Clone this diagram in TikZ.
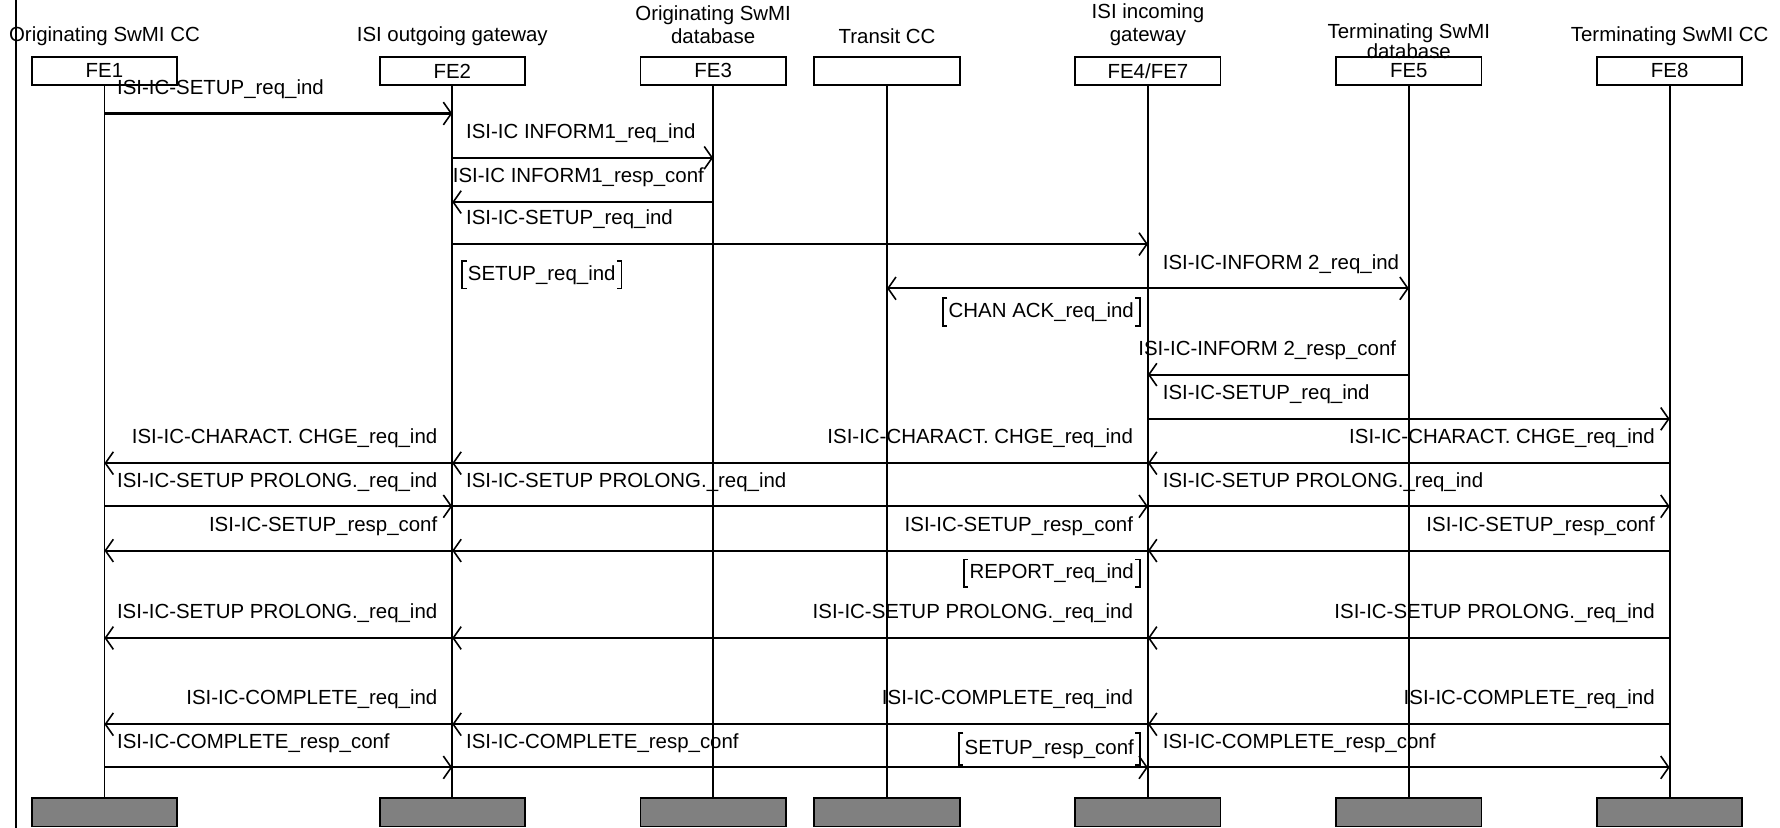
\documentclass[tikz,border=0pt]{standalone}
\usepackage{fontspec}
\setmainfont{Liberation Sans}
\usetikzlibrary{arrows.meta}
\begin{document}
\begin{tikzpicture}[x=1pt,y=-1pt,
  every node/.style={font=\fontsize{18}{20}\selectfont, inner sep=0pt},
  fe/.style={draw, line width=1.6pt, minimum width=128pt, minimum height=25pt, inner sep=0pt},
  febot/.style={fe, fill=gray},
  hdr/.style={align=center},
  life/.style={line width=1.6pt},
  barb/.tip={Straight Barb[length=7pt,width=20pt,line width=1.4pt]},
  msg/.style={line width=1.9pt, -barb},
  bmsg/.style={line width=1.9pt, barb-barb},
  lbl/.style={anchor=base west},
  lbr/.style={anchor=base east},
  brk/.style={inner xsep=5pt, minimum height=24pt},
  brkline/.style={line width=1.6pt}
]
\useasboundingbox (0,0) rectangle (1568,729);
\def\xA{92}\def\xB{398.4}\def\xC{628.2}\def\xT{781.4}\def\xD{1011.2}\def\xE{1241}\def\xF{1470.8}

% left frame line
\coordinate (ftop) at (14,0);
\coordinate (fbot) at (14,729);
\draw[line width=1.6pt] (ftop) -- (fbot);

% headers
\node[hdr] (t1) at (\xA,32) {Originating SwMI CC};
\node[hdr] (t2) at (\xB,32) {ISI outgoing gateway};
\node[hdr] (t3) at (\xC,22) {Originating SwMI\\database};
\node[hdr] (t4) at (\xT,32) {Transit CC};
\node[hdr] (t5) at (\xD,22) {ISI incoming\\gateway};
\node[hdr, font=\fontsize{18}{16.5}\selectfont] (t6) at (\xE,36) {Terminating SwMI\\database};
\node[hdr] (t7) at (\xF,32) {Terminating SwMI CC};

% entity boxes
\node[fe] (top1) at (\xA,62.5) {FE1};
\node[fe] (top2) at (\xB,62.5) {FE2};
\node[fe] (top3) at (\xC,62.5) {FE3};
\node[fe] (top4) at (\xT,62.5) {};
\node[fe] (top5) at (\xD,62.5) {FE4/FE7};
\node[fe] (top6) at (\xE,62.5) {FE5};
\node[fe] (top7) at (\xF,62.5) {FE8};

\node[febot] (bot1) at (\xA,715.5) {};
\node[febot] (bot2) at (\xB,715.5) {};
\node[febot] (bot3) at (\xC,715.5) {};
\node[febot] (bot4) at (\xT,715.5) {};
\node[febot] (bot5) at (\xD,715.5) {};
\node[febot] (bot6) at (\xE,715.5) {};
\node[febot] (bot7) at (\xF,715.5) {};

\foreach \i in {1,...,7} {\draw[life] (top\i.south) -- (bot\i.north);}

% row coordinates on the lifelines
\foreach \r/\y in {ra/100,rb/139,rc/178,rd/215,re/254,rf/330,rg/369,rh/408,ri/446,rj/485,rk/562,rl/638,rm/676} {
  \coordinate (\r1) at (\xA,\y);
  \coordinate (\r2) at (\xB,\y);
  \coordinate (\r3) at (\xC,\y);
  \coordinate (\r4) at (\xT,\y);
  \coordinate (\r5) at (\xD,\y);
  \coordinate (\r6) at (\xE,\y);
  \coordinate (\r7) at (\xF,\y);
}

% 1
\draw[msg] (ra1) -- (ra2);
\path (ra1) ++(11,-17) node[lbl] (la) {ISI-IC-SETUP\_req\_ind};
% 2
\draw[msg] (rb2) -- (rb3);
\path (rb2) ++(12,-17) node[lbl] (lb) {ISI-IC INFORM1\_req\_ind};
% 3
\draw[msg] (rc3) -- (rc2);
\path (rc3) ++(-8,-17) node[lbr] (lc) {ISI-IC INFORM1\_resp\_conf};
% 4
\draw[msg] (rd2) -- (rd5);
\path (rd2) ++(12,-17) node[lbl] (ld) {ISI-IC-SETUP\_req\_ind};
% bracket SETUP_req_ind
\node[brk, anchor=west] (br1) at (407,242) {SETUP\_req\_ind};
\draw[brkline] ([xshift=4pt]br1.north west) -- (br1.north west) -- (br1.south west) -- ++(4,0);
\draw[brkline] ([xshift=-4pt]br1.north east) -- (br1.north east) -- (br1.south east) -- ++(-4,0);
% 6
\draw[bmsg] (re4) -- (re6);
\path (re5) ++(13,-17) node[lbl] (le) {ISI-IC-INFORM 2\_req\_ind};
% bracket CHAN ACK
\node[brk, anchor=east] (br2) at (1004,275) {CHAN ACK\_req\_ind};
\draw[brkline] ([xshift=4pt]br2.north west) -- (br2.north west) -- (br2.south west) -- ++(4,0);
\draw[brkline] ([xshift=-4pt]br2.north east) -- (br2.north east) -- (br2.south east) -- ++(-4,0);
% 8
\draw[msg] (rf6) -- (rf5);
\path (rf6) ++(-11,-17) node[lbr] (lf) {ISI-IC-INFORM 2\_resp\_conf};
% 9
\draw[msg] (rg5) -- (rg7);
\path (rg5) ++(13,-17) node[lbl] (lg) {ISI-IC-SETUP\_req\_ind};
% 10
\draw[msg] (rh7) -- (rh5);
\draw[msg] (rh5) -- (rh2);
\draw[msg] (rh2) -- (rh1);
\path (rh2) ++(-13,-17) node[lbr] (lh1) {ISI-IC-CHARACT. CHGE\_req\_ind};
\path (rh5) ++(-13,-17) node[lbr] (lh2) {ISI-IC-CHARACT. CHGE\_req\_ind};
\path (rh7) ++(-13,-17) node[lbr] (lh3) {ISI-IC-CHARACT. CHGE\_req\_ind};
% 11
\draw[msg] (ri1) -- (ri2);
\draw[msg] (ri2) -- (ri5);
\draw[msg] (ri5) -- (ri7);
\path (ri1) ++(11,-17) node[lbl] (li1) {ISI-IC-SETUP PROLONG.\_req\_ind};
\path (ri2) ++(12,-17) node[lbl] (li2) {ISI-IC-SETUP PROLONG.\_req\_ind};
\path (ri5) ++(13,-17) node[lbl] (li3) {ISI-IC-SETUP PROLONG.\_req\_ind};
% 12
\draw[msg] (rj7) -- (rj5);
\draw[msg] (rj5) -- (rj2);
\draw[msg] (rj2) -- (rj1);
\path (rj2) ++(-13,-17) node[lbr] (lj1) {ISI-IC-SETUP\_resp\_conf};
\path (rj5) ++(-13,-17) node[lbr] (lj2) {ISI-IC-SETUP\_resp\_conf};
\path (rj7) ++(-13,-17) node[lbr] (lj3) {ISI-IC-SETUP\_resp\_conf};
% bracket REPORT
\node[brk, anchor=east] (br3) at (1004,505) {REPORT\_req\_ind};
\draw[brkline] ([xshift=4pt]br3.north west) -- (br3.north west) -- (br3.south west) -- ++(4,0);
\draw[brkline] ([xshift=-4pt]br3.north east) -- (br3.north east) -- (br3.south east) -- ++(-4,0);
% 14
\draw[msg] (rk7) -- (rk5);
\draw[msg] (rk5) -- (rk2);
\draw[msg] (rk2) -- (rk1);
\path (rk2) ++(-13,-17) node[lbr] (lk1) {ISI-IC-SETUP PROLONG.\_req\_ind};
\path (rk5) ++(-13,-17) node[lbr] (lk2) {ISI-IC-SETUP PROLONG.\_req\_ind};
\path (rk7) ++(-13,-17) node[lbr] (lk3) {ISI-IC-SETUP PROLONG.\_req\_ind};
% 15
\draw[msg] (rl7) -- (rl5);
\draw[msg] (rl5) -- (rl2);
\draw[msg] (rl2) -- (rl1);
\path (rl2) ++(-13,-17) node[lbr] (ll1) {ISI-IC-COMPLETE\_req\_ind};
\path (rl5) ++(-13,-17) node[lbr] (ll2) {ISI-IC-COMPLETE\_req\_ind};
\path (rl7) ++(-13,-17) node[lbr] (ll3) {ISI-IC-COMPLETE\_req\_ind};
% 16
\draw[msg] (rm1) -- (rm2);
\draw[msg] (rm2) -- (rm5);
\draw[msg] (rm5) -- (rm7);
\path (rm1) ++(11,-17) node[lbl] (lm1) {ISI-IC-COMPLETE\_resp\_conf};
\path (rm2) ++(12,-17) node[lbl] (lm2) {ISI-IC-COMPLETE\_resp\_conf};
\path (rm5) ++(13,-17) node[lbl] (lm3) {ISI-IC-COMPLETE\_resp\_conf};
% bracket SETUP_resp_conf
\node[brk, anchor=east, minimum height=28pt] (br4) at (1004,660) {SETUP\_resp\_conf};
\draw[brkline] ([xshift=4pt]br4.north west) -- (br4.north west) -- (br4.south west) -- ++(4,0);
\draw[brkline] ([xshift=-4pt]br4.north east) -- (br4.north east) -- (br4.south east) -- ++(-4,0);
\end{tikzpicture}
\end{document}
